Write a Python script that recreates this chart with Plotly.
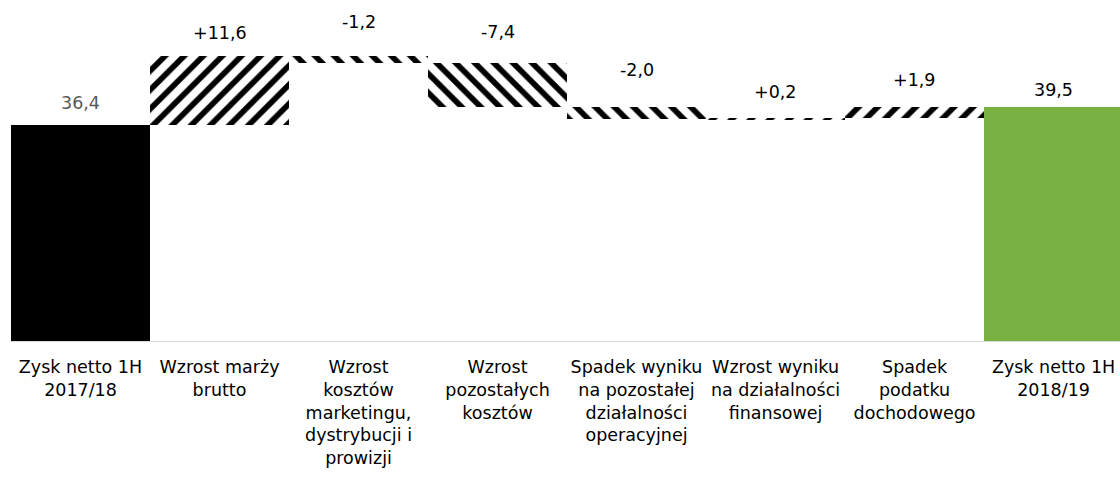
import plotly.graph_objects as go

categories = [
    "Zysk netto 1H<br>2017/18",
    "Wzrost marży<br>brutto",
    "Wzrost<br>kosztów<br>marketingu,<br>dystrybucji i<br>prowizji",
    "Wzrost<br>pozostałych<br>kosztów",
    "Spadek wyniku<br>na pozostałej<br>działalności<br>operacyjnej",
    "Wzrost wyniku<br>na działalności<br>finansowej",
    "Spadek<br>podatku<br>dochodowego",
    "Zysk netto 1H<br>2018/19",
]
start_value = 36.4
changes = [11.6, -1.2, -7.4, -2.0, 0.2, 1.9]
end_value = 39.5
value_labels = ["36,4", "+11,6", "-1,2", "-7,4", "-2,0", "+0,2", "+1,9", "39,5"]

# styling (not data): pixel offsets of the value labels above bar tops
label_shift = [22, 23, 34, 31, 37, 26, 27, 17]

bases = []
heights = []
cur = start_value
for c in changes:
    if c >= 0:
        bases.append(cur)
        heights.append(c)
    else:
        bases.append(cur + c)
        heights.append(-c)
    cur += c

FONT = "DejaVu Sans"
FS = 17.5

fig = go.Figure()
fig.add_trace(go.Bar(x=[categories[0]], y=[start_value], base=[0],
                     marker=dict(color="#000000", line=dict(width=0)),
                     hoverinfo="skip"))
fig.add_trace(go.Bar(
    x=categories[1:-1], y=heights, base=bases,
    marker=dict(
        color="white",
        line=dict(width=0),
        pattern=dict(
            shape=["/" if c >= 0 else "\\" for c in changes],
            fgcolor="#000000", bgcolor="#FFFFFF", fgopacity=1,
            fillmode="replace", size=13.5, solidity=0.42,
        ),
    ),
    hoverinfo="skip"))
fig.add_trace(go.Bar(x=[categories[-1]], y=[end_value], base=[0],
                     marker=dict(color="#7AB143", line=dict(width=0)),
                     hoverinfo="skip"))

tops = [start_value] + [b + h for b, h in zip(bases, heights)] + [end_value]
for i, (cat, top, txt) in enumerate(zip(categories, tops, value_labels)):
    fig.add_annotation(x=cat, y=top, text=txt, showarrow=False,
                       yanchor="middle", yshift=label_shift[i],
                       font=dict(family=FONT, size=FS,
                                 color="#595959" if i == 0 else "#000000"))

fig.update_layout(
    width=1120, height=485,
    margin=dict(l=11, r=0, t=0, b=144, pad=0),
    paper_bgcolor="white", plot_bgcolor="white",
    barmode="overlay", bargap=0,
    showlegend=False,
    font=dict(family=FONT, size=FS, color="#000000"),
)
fig.update_xaxes(showline=True, linecolor="#D9D9D9", linewidth=1,
                 range=[-0.5, 7.478],
                 showgrid=False, ticks="", tickangle=0, automargin=False,
                 ticklabelstandoff=10,
                 tickfont=dict(family=FONT, size=FS, color="#000000"))
fig.update_yaxes(range=[0, 57.5], visible=False, showgrid=False,
                 automargin=False)

fig.write_html("out.html",
               config={"displayModeBar": False},
               post_script="document.body.style.margin='0';document.body.style.padding='0';")
